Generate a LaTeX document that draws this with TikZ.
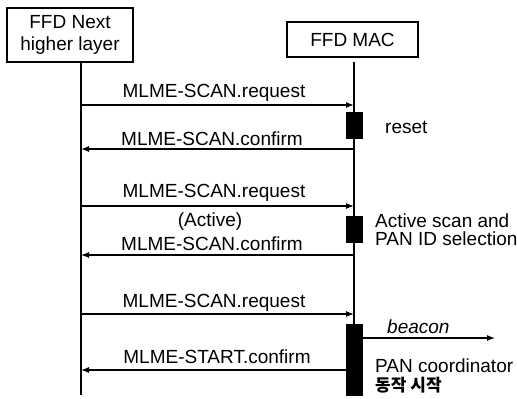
\documentclass[tikz,border=0pt]{standalone}
\usepackage{fontspec}
\setmainfont{Liberation Sans}
\newfontfamily\krfont{Noto Sans CJK KR}
\usetikzlibrary{arrows.meta}
\begin{document}
\begin{tikzpicture}[x=1pt,y=-1pt,
  txt/.style={font=\fontsize{19}{22}\selectfont, inner sep=0pt},
  lbl/.style={txt, anchor=base},
  rlbl/.style={txt, anchor=base west},
  frame/.style={draw, line width=1.1pt, inner sep=0pt, align=center, font=\fontsize{19}{22}\selectfont},
  life/.style={line width=1.3pt},
  msg/.style={line width=1.1pt, -{Latex[length=8pt,width=6pt]}},
  actbox/.style={draw=black, fill=black, minimum width=16pt, inner sep=0pt}
]
\useasboundingbox (0,0) rectangle (517,399);

% header boxes
\node[frame, minimum width=126pt, minimum height=54pt] (nhl) at (70,35) {FFD Next\\higher layer};
\node[frame, minimum width=131pt, minimum height=35pt] (mac) at (352.5,39.5) {FFD MAC};

% lifelines
\coordinate (Ltop) at (81,62);
\coordinate (Lend) at (81,395);
\coordinate (Rtop) at (354,62);
\coordinate (Rend) at (354,395);
\draw[life] (Ltop) -- (Lend);
\draw[life] (Rtop) -- (Rend);

% activation boxes
\node[actbox, minimum height=26pt] (act1) at (354,125) {};
\node[actbox, minimum height=26pt] (act2) at (354,229) {};
\node[actbox, minimum height=71pt] (act3) at (354,359.5) {};

% message end points
\coordinate (L1) at (81,105);  \coordinate (R1) at (354,105);
\coordinate (L2) at (81,149);  \coordinate (R2) at (354,149);
\coordinate (L3) at (81,206);  \coordinate (R3) at (354,206);
\coordinate (L4) at (81,255);  \coordinate (R4) at (354,255);
\coordinate (L5) at (81,314);  \coordinate (R5) at (354,314);
\coordinate (L6) at (81,370);  \coordinate (R6) at (346,370);
\coordinate (B1) at (362,338); \coordinate (B2) at (495,338);

\draw[msg] (L1) -- (R1);
\draw[msg] (R2) -- (L2);
\draw[msg] (L3) -- (R3);
\draw[msg] (R4) -- (L4);
\draw[msg] (L5) -- (R5);
\draw[msg] (R6) -- (L6);
\draw[msg] (B1) -- (B2);

% message labels
\node[lbl] (t1) at (214,97)  {MLME-SCAN.request};
\node[lbl] (t2) at (212,145) {MLME-SCAN.confirm};
\node[lbl] (t3) at (214,197) {MLME-SCAN.request};
\node[lbl] (t4) at (210,226) {(Active)};
\node[lbl] (t5) at (212,250) {MLME-SCAN.confirm};
\node[lbl] (t6) at (214,307) {MLME-SCAN.request};
\node[lbl] (t7) at (217,363) {MLME-START.confirm};

% notes on the MAC side
\node[rlbl] (n1) at (385,133) {reset};
\node[rlbl] (n2) at (375,227) {Active scan and};
\node[rlbl] (n3) at (375,245) {PAN ID selection};
\node[rlbl, font=\fontsize{19}{22}\selectfont\itshape] (n4) at (387,333) {beacon};
\node[rlbl] (n5) at (375,372) {PAN coordinator};
\node[rlbl, font=\fontsize{17}{20}\krfont\bfseries] (n6) at (375,391) {동작 시작};
\end{tikzpicture}
\end{document}
